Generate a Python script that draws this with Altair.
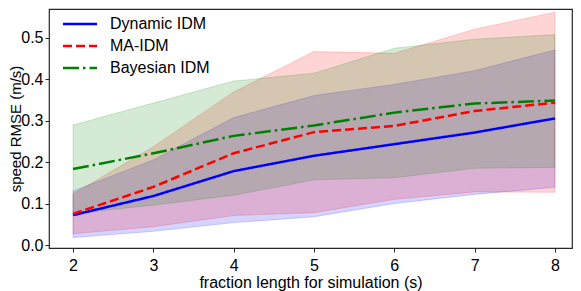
import altair as alt
import pandas as pd

xs = [2, 3, 4, 5, 6, 7, 8]
series_names = ["Dynamic IDM", "MA-IDM", "Bayesian IDM"]
series_colors = ["#0000ff", "#ff0000", "#008000"]
series_dashes = [[1, 0], [9, 4], [16, 4, 2.5, 4]]

dyn_mean = [0.072, 0.118, 0.178, 0.215, 0.243, 0.271, 0.305]
dyn_lo = [0.018, 0.033, 0.054, 0.068, 0.100, 0.122, 0.139]
dyn_hi = [0.130, 0.205, 0.307, 0.360, 0.387, 0.420, 0.470]

ma_mean = [0.075, 0.140, 0.221, 0.272, 0.287, 0.323, 0.343]
ma_lo = [0.027, 0.044, 0.071, 0.078, 0.110, 0.128, 0.127]
ma_hi = [0.123, 0.237, 0.369, 0.466, 0.462, 0.520, 0.561]

bay_mean = [0.183, 0.221, 0.263, 0.288, 0.319, 0.341, 0.348]
bay_lo = [0.076, 0.096, 0.120, 0.157, 0.162, 0.185, 0.187]
bay_hi = [0.289, 0.342, 0.395, 0.414, 0.474, 0.496, 0.507]

y_ticks = [0.0, 0.1, 0.2, 0.3, 0.4, 0.5]

rows = []
for name, m, lo, hi in zip(series_names, [dyn_mean, ma_mean, bay_mean],
                           [dyn_lo, ma_lo, bay_lo], [dyn_hi, ma_hi, bay_hi]):
    for i, x in enumerate(xs):
        rows.append({"series": name, "x": x, "mean": m[i], "lo": lo[i], "hi": hi[i]})
df = pd.DataFrame(rows)

FONT = "Liberation Sans"

xscale = alt.Scale(domain=[1.701, 8.212], nice=False, zero=False)
yscale = alt.Scale(domain=[-0.0072, 0.5687], nice=False, zero=False)

xenc = alt.X("x:Q", scale=xscale,
             axis=alt.Axis(title="fraction length for simulation (s)", values=xs,
                           format="d", labelPadding=5, titlePadding=1))
yenc_area = alt.Y("lo:Q", scale=yscale,
                  axis=alt.Axis(title="speed RMSE (m/s)", values=y_ticks, format=".1f",
                                labelPadding=2, titleX=-41, titleBaseline="top",
                                titleFontSize=15))
base = alt.Chart(df)

area_layers = []
for name, col in zip(series_names, series_colors):
    area_layers.append(
        base.transform_filter(alt.datum.series == name)
        .mark_area(color=col, fillOpacity=0.17, stroke=col, strokeOpacity=0.17, strokeWidth=1)
        .encode(x=xenc, y=yenc_area, y2="hi:Q")
    )

# long horizontal line symbol (custom path, scaled by sqrt(size)/2)
leg = alt.Legend(title=None, orient="none", legendX=23, legendY=7,
                 symbolType="M-2.52,0H2.52", symbolSize=182, symbolStrokeWidth=2.5,
                 symbolFillColor="transparent",
                 labelFontSize=16, labelFont=FONT, labelColor="black",
                 rowPadding=6, labelOffset=22)

lines = base.mark_line(strokeWidth=2.5).encode(
    x=xenc,
    y=alt.Y("mean:Q", scale=yscale),
    color=alt.Color("series:N", scale=alt.Scale(domain=series_names, range=series_colors),
                    legend=leg),
    strokeDash=alt.StrokeDash("series:N", scale=alt.Scale(domain=series_names, range=series_dashes),
                              legend=leg),
)

chart = alt.layer(*area_layers, lines).properties(
    width=523, height=239,
    autosize=alt.AutoSizeParams(type="none"),
    padding={"left": 41, "top": 1, "right": 1, "bottom": 43},
).configure_view(
    stroke="#262626", strokeWidth=1.2
).configure_axis(
    domain=False, grid=False, tickColor="#262626", tickSize=4, tickWidth=1,
    labelFont=FONT, titleFont=FONT, labelFontSize=16, titleFontSize=16,
    labelColor="black", titleColor="black", titleFontWeight="normal",
)

chart.save("out.html", embed_options={"renderer": "svg", "actions": False})
